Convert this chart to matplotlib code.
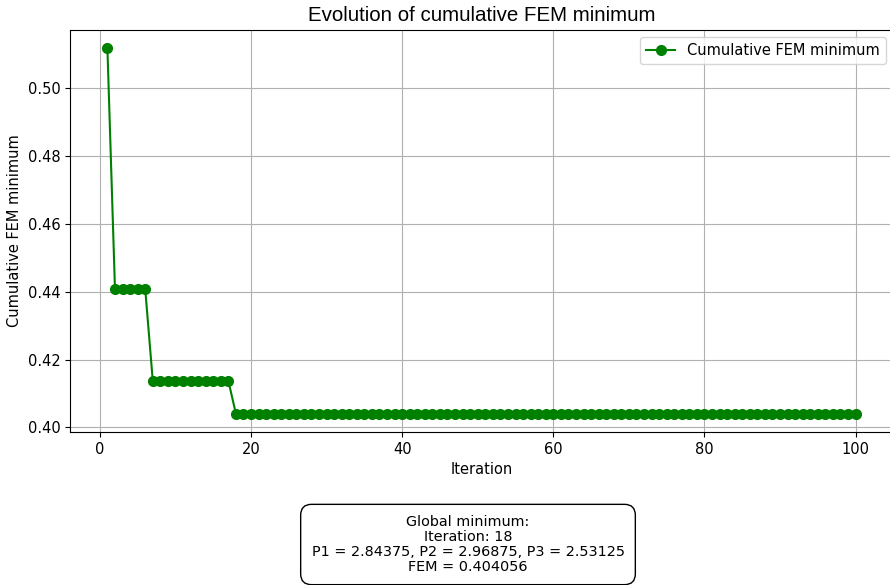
import matplotlib
matplotlib.use("Agg")
import matplotlib.pyplot as plt

iterations = list(range(1, 101))
step_values = [0.5118, 0.4409, 0.4138, 0.404056]
step_counts = [1, 5, 11, 83]
cum_min = []
for v, c in zip(step_values, step_counts):
    cum_min += [v] * c

title = "Evolution of cumulative FEM minimum"
xlabel = "Iteration"
ylabel = "Cumulative FEM minimum"
legend_label = "Cumulative FEM minimum"
box_text = ("Global minimum:\nIteration: 18\n"
            "P1 = 2.84375, P2 = 2.96875, P3 = 2.53125\nFEM = 0.404056")

fig = plt.figure(figsize=(8.9, 5.85), dpi=100)
W, H = 890, 585
ax = fig.add_axes([70 / W, 1 - 432 / H, (893 - 70) / W, (432 - 30) / H])
ax.plot(iterations, cum_min, marker="o", color="green", markersize=7,
        linewidth=1.5, label=legend_label)
ax.grid(True)
ax.set_xlabel(xlabel, fontsize=10.5)
ax.set_ylabel(ylabel, fontsize=10.5)
ax.set_title(title, fontsize=14.8, family=["Liberation Sans", "DejaVu Sans"], pad=6.5)
ax.legend(loc="upper right", fontsize=10.5)
ax.tick_params(labelsize=10.5)

fig.text(468 / W, 1 - 544.5 / H, box_text, ha="center", va="center", fontsize=10.4,
         linespacing=1.08,
         bbox=dict(boxstyle="round,pad=0.75", facecolor="white", edgecolor="black"))

fig.savefig("out.png", dpi=100)
